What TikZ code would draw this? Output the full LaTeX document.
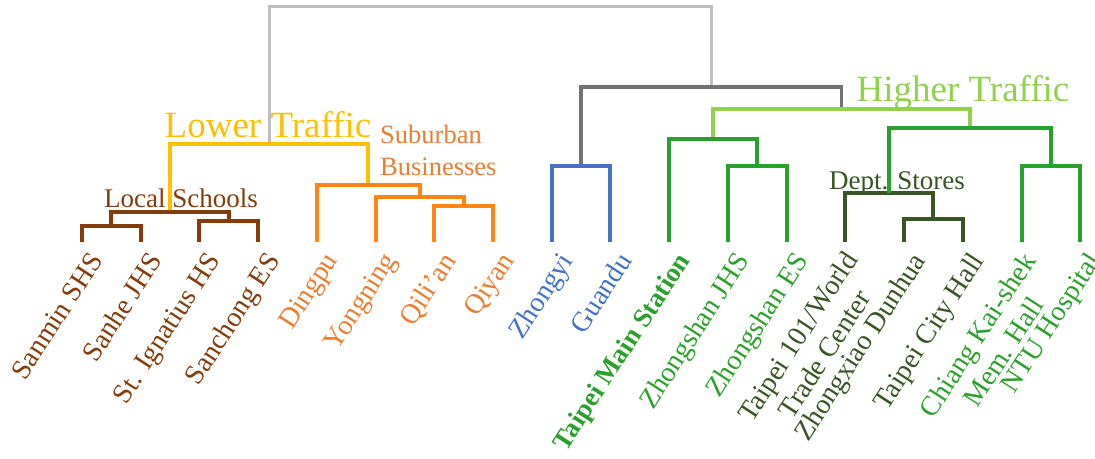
\documentclass[tikz,border=0pt]{standalone}
\usepackage{fontspec}
\setmainfont{Liberation Serif}
\definecolor{cbrown}{HTML}{843C0C}
\definecolor{cgold}{HTML}{FFC000}
\definecolor{corange}{HTML}{FF8515}
\definecolor{corangetxt}{HTML}{ED7D31}
\definecolor{cblue}{HTML}{4472C4}
\definecolor{cgrey}{HTML}{767171}
\definecolor{croot}{HTML}{BFBFBF}
\definecolor{clgreen}{HTML}{92D050}
\definecolor{cgreen}{HTML}{2CA02C}
\definecolor{cdgreen}{HTML}{375623}
\tikzset{
  link/.style={line width=4pt, line join=miter, line cap=butt},
  lab/.style={rotate=57, anchor=north east, inner sep=0pt, font=\fontsize{28}{32}\selectfont, align=center},
  grouplab/.style={inner sep=0pt, anchor=base},
}
\begin{document}
\begin{tikzpicture}[x=1pt,y=-1pt]
\useasboundingbox (0,0) rectangle (1095,458);
% leaves
\foreach \i/\n in {0/a,1/b,2/c,3/d,4/e,5/f,6/g,7/h,8/i,9/j,10/k,11/l,12/m,13/n,14/o,15/p,16/q,17/r}{
  \coordinate (\n) at ({82+58.72*\i},242);
}
% merges
\coordinate (mss) at ({82+58.72*0.5},226);
\coordinate (mis) at ({82+58.72*2.5},221);
\coordinate (mls) at ({82+58.72*1.5},212);
\coordinate (mqq) at ({82+58.72*6.5},206);
\coordinate (myq) at ({82+58.72*5.75},197);
\coordinate (mdy) at ({82+58.72*4.875},185);
\coordinate (mlt) at ({82+58.72*3.1875},144);
\coordinate (mzg) at ({82+58.72*8.5},166);
\coordinate (mzz) at ({82+58.72*11.5},166);
\coordinate (mtz) at ({82+58.72*10.75},139);
\coordinate (mtc) at ({82+58.72*14.5},219);
\coordinate (mds) at ({82+58.72*13.75},193);
\coordinate (mcn) at ({82+58.72*16.5},166);
\coordinate (mrg) at ({82+58.72*15.125},128);
\coordinate (mht) at ({82+58.72*12.9375},109);
\coordinate (mgr) at ({82+58.72*10.71875},87);
\coordinate (mroot) at ({82+58.72*6.953125},6);
% links
\draw[link, croot, line width=3pt] (mlt) |- (mroot) -| (mgr);
\draw[link, cgrey, line width=3.5pt] (mzg) |- (mgr) -| (mht);
\draw[link, clgreen] (mtz) |- (mht) -| (mrg);
\draw[link, cgold] (mls) |- (mlt) -| (mdy);
\draw[link, cbrown] (a) |- (mss) -| (b);
\draw[link, cbrown] (c) |- (mis) -| (d);
\draw[link, cbrown] (mss) |- (mls) -| (mis);
\draw[link, corange] (g) |- (mqq) -| (h);
\draw[link, corange] (f) |- (myq) -| (mqq);
\draw[link, corange] (e) |- (mdy) -| (myq);
\draw[link, cblue] (i) |- (mzg) -| (j);
\draw[link, cgreen] (l) |- (mzz) -| (m);
\draw[link, cgreen] (k) |- (mtz) -| (mzz);
\draw[link, cdgreen] (o) |- (mtc) -| (p);
\draw[link, cdgreen] (n) |- (mds) -| (mtc);
\draw[link, cgreen] (q) |- (mcn) -| (r);
\draw[link, cgreen] (mds) |- (mrg) -| (mcn);
% leaf labels
\node[lab, text=cbrown] (la) at ([xshift=6pt,yshift=-8pt]a) {Sanmin SHS};
\node[lab, text=cbrown] (lb) at ([xshift=6pt,yshift=-8pt]b) {Sanhe JHS};
\node[lab, text=cbrown] (lc) at ([xshift=6pt,yshift=-8pt]c) {St. Ignatius HS};
\node[lab, text=cbrown] (ld) at ([xshift=6pt,yshift=-8pt]d) {Sanchong ES};
\node[lab, text=corangetxt] (le) at ([xshift=6pt,yshift=-8pt]e) {Dingpu};
\node[lab, text=corangetxt] (lf) at ([xshift=6pt,yshift=-8pt]f) {Yongning};
\node[lab, text=corangetxt] (lg) at ([xshift=6pt,yshift=-8pt]g) {Qili’an};
\node[lab, text=corangetxt] (lh) at ([xshift=6pt,yshift=-8pt]h) {Qiyan};
\node[lab, text=cblue] (li) at ([xshift=6pt,yshift=-8pt]i) {Zhongyi};
\node[lab, text=cblue] (lj) at ([xshift=6pt,yshift=-8pt]j) {Guandu};
\node[lab, text=cgreen, font=\fontsize{27}{30}\selectfont\bfseries] (lk) at ([xshift=6pt,yshift=-8pt]k) {Taipei Main Station};
\node[lab, text=cgreen] (ll) at ([xshift=6pt,yshift=-8pt]l) {Zhongshan JHS};
\node[lab, text=cgreen] (lm) at ([xshift=6pt,yshift=-8pt]m) {Zhongshan ES};
\node[lab, text=cdgreen] (ln) at ([xshift=-3pt,yshift=-7pt]n) {Taipei 101/World\\Trade Center};
\node[lab, text=cdgreen] (lo) at ([xshift=6pt,yshift=-8pt]o) {Zhongxiao Dunhua};
\node[lab, text=cdgreen] (lp) at ([xshift=6pt,yshift=-8pt]p) {Taipei City Hall};
\node[lab, text=cgreen, font=\fontsize{28}{31}\selectfont] (lq) at ([xshift=-1pt,yshift=-8pt]q) {Chiang Kai-shek\\Mem. Hall};
\node[lab, text=cgreen] (lr) at ([xshift=5pt,yshift=-8pt]r) {NTU Hospital};
% group labels
\node[grouplab, text=cgold, font=\fontsize{37}{40}\selectfont] (tlow) at (268,137) {Lower Traffic};
\node[grouplab, text=clgreen, font=\fontsize{37}{40}\selectfont] (thigh) at (963,101) {Higher Traffic};
\node[grouplab, text=cbrown, font=\fontsize{27}{30}\selectfont] (tls) at (181,207) {Local Schools};
\node[grouplab, text=cdgreen, font=\fontsize{27}{30}\selectfont] (tds) at (897,189) {Dept. Stores};
\node[inner sep=0pt, anchor=base west, text=corangetxt, font=\fontsize{26.5}{32}\selectfont, align=left] (tsub) at (380,175) {Suburban\\Businesses};
\end{tikzpicture}
\end{document}
